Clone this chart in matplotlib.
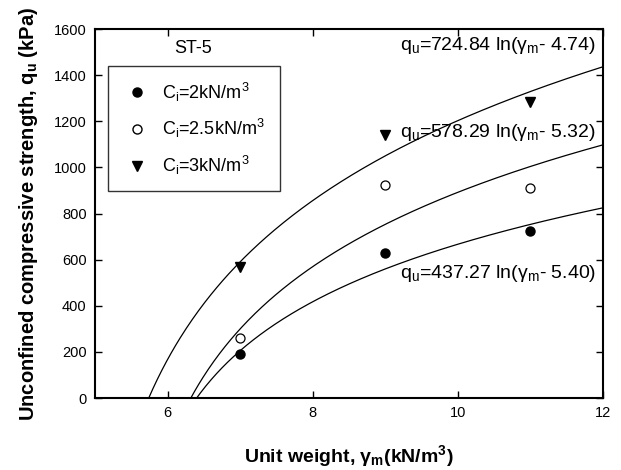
import numpy as np
import matplotlib.pyplot as plt
from matplotlib.lines import Line2D

plt.rcParams["font.family"] = ["Liberation Sans", "DejaVu Sans"]
plt.rcParams["mathtext.fontset"] = "custom"
plt.rcParams["mathtext.rm"] = "Liberation Sans"
plt.rcParams["mathtext.it"] = "Liberation Sans:italic"
plt.rcParams["mathtext.bf"] = "Liberation Sans:bold"

# measured points
unit_weight = [7, 9, 11]
qu_c2 = [193, 630, 725]
qu_c25 = [261, 922, 910]
qu_c3 = [568, 1140, 1285]

# fitted curves: qu = a * ln(gamma - b)
fit_a = [724.84, 578.29, 437.27]
fit_b = [4.74, 5.32, 5.40]
fit_labels = [
    r"q$_\mathregular{u}$=724.84 ln(γ$_\mathregular{m}$- 4.74)",
    r"q$_\mathregular{u}$=578.29 ln(γ$_\mathregular{m}$- 5.32)",
    r"q$_\mathregular{u}$=437.27 ln(γ$_\mathregular{m}$- 5.40)",
]
label_pos = [(11.9, 1531), (11.9, 1153), (11.9, 542)]

fig = plt.figure(figsize=(6.21, 4.70), dpi=100)
ax = fig.add_axes([0.153, 0.153, 0.818, 0.785])

for a, b in zip(fit_a, fit_b):
    g = np.linspace(b + 0.995, 12, 300)
    ax.plot(g, a * np.log(g - b), color="black", lw=0.9)

ax.plot(unit_weight, qu_c2, "o", color="black", ms=6.5, ls="none")
ax.plot(unit_weight, qu_c25, "o", mfc="white", mec="black", mew=0.9, ms=6.5, ls="none")
ax.plot(unit_weight, qu_c3, "v", color="black", ms=6.5, ls="none")

for lab, (x, y) in zip(fit_labels, label_pos):
    ax.text(x, y, lab, ha="right", va="center", fontsize=14)

ax.text(0.193, 0.948, "ST-5", transform=ax.transAxes, ha="center", va="center", fontsize=13)

handles = [
    Line2D([], [], marker="o", color="black", ls="none", ms=6.5),
    Line2D([], [], marker="o", mfc="white", mec="black", ls="none", ms=6.5),
    Line2D([], [], marker="v", color="black", ls="none", ms=6.5),
]
labels = [r"C$_\mathregular{i}$=2kN/m$^\mathregular{3}$",
          r"C$_\mathregular{i}$=2.5kN/m$^\mathregular{3}$",
          r"C$_\mathregular{i}$=3kN/m$^\mathregular{3}$"]
leg = ax.legend(handles, labels, loc="upper left", bbox_to_anchor=(0.026, 0.90),
                borderaxespad=0, fontsize=13, frameon=True, fancybox=False,
                edgecolor="black", handletextpad=0.6, borderpad=0.8,
                labelspacing=0.75, handlelength=1.6)
leg.get_frame().set_linewidth(1.0)

ax.set_xlim(5, 12)
ax.set_ylim(0, 1600)
ax.set_xticks([6, 8, 10, 12])
ax.set_yticks(range(0, 1601, 200))
ax.tick_params(direction="in", top=True, right=True, length=5, width=1, labelsize=10.5, pad=6)
for s in ax.spines.values():
    s.set_linewidth(1.5)

ax.set_xlabel(r"Unit weight, γ$_\mathbf{m}$(kN/m$^\mathbf{3}$)",
              fontsize=14, fontweight="bold", labelpad=16)
ax.set_ylabel(r"Unconfined compressive strength, q$_\mathbf{u}$ (kPa)",
              fontsize=14.5, fontweight="bold", labelpad=10)

fig.savefig("out.png", dpi=100)
